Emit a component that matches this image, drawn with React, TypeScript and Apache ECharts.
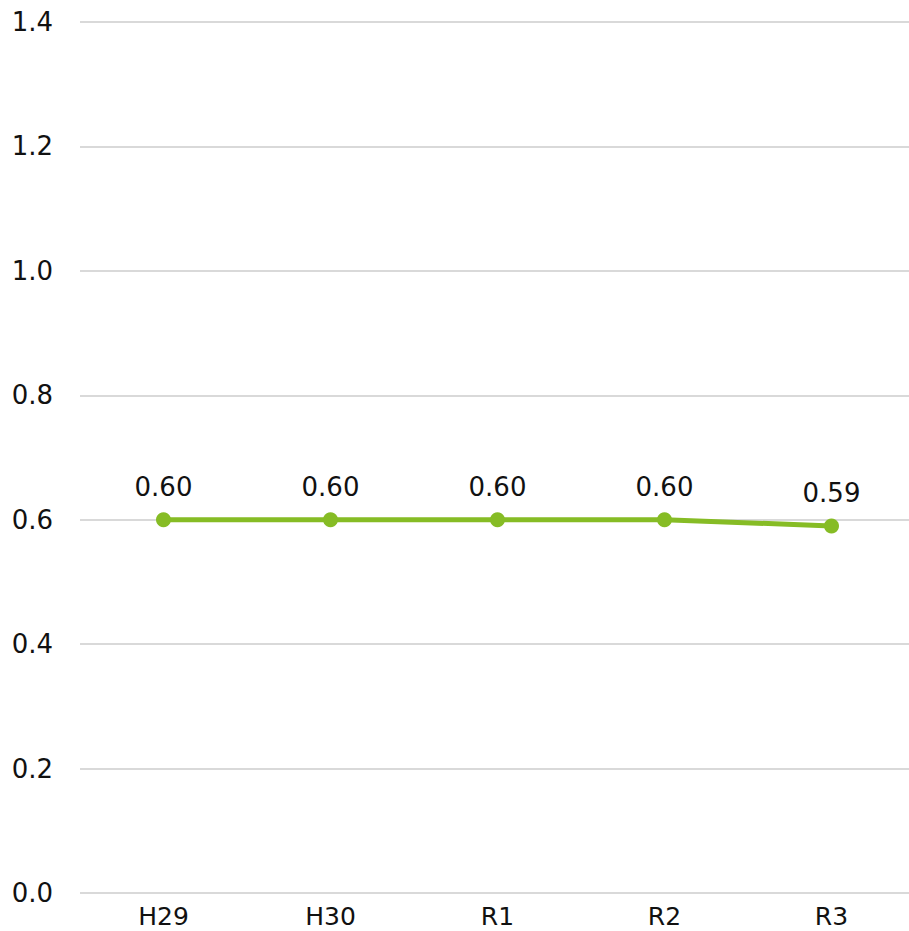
import React, { useEffect, useRef } from "react";
import * as echarts from "echarts";

const categories = ["H29", "H30", "R1", "R2", "R3"];
const values = [0.6, 0.6, 0.6, 0.6, 0.59];
const yMin = 0;
const yMax = 1.4;
const yInterval = 0.2;

export default function App() {
  const ref = useRef<HTMLDivElement>(null);
  useEffect(() => {
    document.body.style.margin = "0";
    document.body.style.overflow = "hidden";
    document.documentElement.style.overflow = "hidden";
    if (!ref.current) return;
    const chart = echarts.init(ref.current, null, { renderer: "svg" });
    const font = "'DejaVu Sans', sans-serif";
    chart.setOption({
      animation: false,
      backgroundColor: "#ffffff",
      grid: { left: 80, top: 22, width: 835, height: 871, containLabel: false },
      xAxis: {
        type: "category",
        data: categories,
        boundaryGap: true,
        axisLine: { show: false },
        axisTick: { show: false },
        axisLabel: { color: "#111111", fontSize: 25, lineHeight: 20, fontFamily: font, margin: 13 },
      },
      yAxis: {
        type: "value",
        min: yMin,
        max: yMax,
        interval: yInterval,
        axisLine: { show: false },
        axisTick: { show: false },
        axisLabel: {
          color: "#111111",
          fontSize: 26,
          fontFamily: font,
          margin: 27,
          formatter: (v: number) => v.toFixed(1),
        },
        splitLine: { lineStyle: { color: "#d9d9d9", width: 2 } },
      },
      series: [
        {
          type: "line",
          data: values,
          symbol: "circle",
          symbolSize: 15,
          itemStyle: { color: "#86bc25" },
          lineStyle: { color: "#86bc25", width: 5 },
          label: {
            show: true,
            position: "top",
            distance: 12,
            color: "#111111",
            fontSize: 26,
            fontFamily: font,
            formatter: (p: any) => Number(p.value).toFixed(2),
          },
        },
      ],
    });
    return () => chart.dispose();
  }, []);
  return <div ref={ref} style={{ width: 920, height: 931 }} />;
}
